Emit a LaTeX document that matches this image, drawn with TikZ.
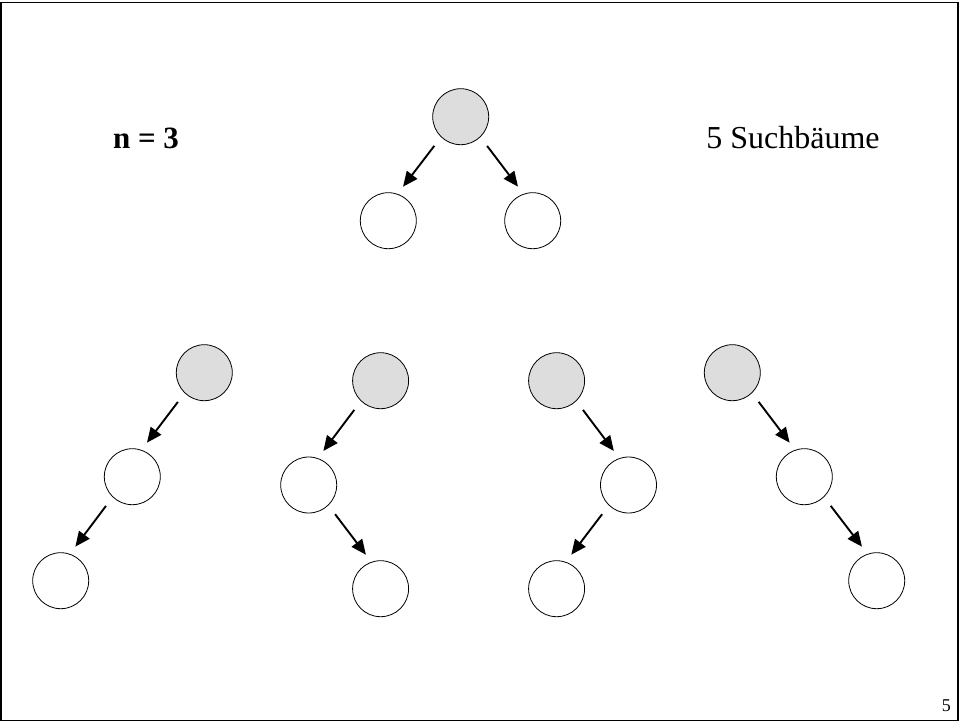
\documentclass[tikz,border=0pt]{standalone}
\usepackage{fontspec}
\setmainfont{Liberation Serif}
\usetikzlibrary{arrows.meta}
\definecolor{rootfill}{RGB}{221,221,221}
\tikzset{
  keynode/.style={circle, draw=black, line width=0.8pt, minimum size=56pt, inner sep=0pt},
  rootnode/.style={keynode, fill=rootfill},
  leafnode/.style={keynode, fill=white},
  edge/.style={line width=1.9pt, -{Triangle[length=15pt,width=13pt]}, shorten <=11pt, shorten >=9pt},
}
\begin{document}
\begin{tikzpicture}[x=1pt, y=-1pt]
  \useasboundingbox (0,0) rectangle (960,723);
  \draw[line width=1.5pt] (1,2.7) rectangle (957.8,720.3);

  % labels
  \node[font=\fontsize{31}{34}\selectfont\bfseries, anchor=base] (nlabel) at (146,148.3) {n = 3};
  \node[font=\fontsize{32}{36}\selectfont, anchor=base] (count) at (793,148.3) {5 Suchbäume};
  \node[font=\fontsize{18}{20}\selectfont, anchor=base east, inner sep=0pt] (page) at (951,711.5) {5};

  % balanced tree
  \node[rootnode] (t0) at (460.7,116.7) {};
  \node[leafnode] (t0l) at (388.3,220.7) {};
  \node[leafnode] (t0r) at (532.7,220.7) {};
  \draw[edge] (t0.226) -- (t0l.71);
  \draw[edge] (t0.314) -- (t0r.109);

  % left-left chain
  \node[rootnode] (a0) at (204.3,372.7) {};
  \node[leafnode] (a1) at (132.3,476.7) {};
  \node[leafnode] (a2) at (60.7,580.7) {};
  \draw[edge] (a0.226) -- (a1.71);
  \draw[edge] (a1.226) -- (a2.71);

  % left-right chain
  \node[rootnode] (b0) at (380.6,380.7) {};
  \node[leafnode] (b1) at (308.7,485) {};
  \node[leafnode] (b2) at (380.6,588.7) {};
  \draw[edge] (b0.226) -- (b1.71);
  \draw[edge] (b1.314) -- (b2.109);

  % right-left chain
  \node[rootnode] (c0) at (556.6,380.7) {};
  \node[leafnode] (c1) at (628.5,485) {};
  \node[leafnode] (c2) at (556.6,588.7) {};
  \draw[edge] (c0.314) -- (c1.109);
  \draw[edge] (c1.226) -- (c2.71);

  % right-right chain
  \node[rootnode] (d0) at (732.3,372.7) {};
  \node[leafnode] (d1) at (804.3,476.7) {};
  \node[leafnode] (d2) at (876.7,580.7) {};
  \draw[edge] (d0.314) -- (d1.109);
  \draw[edge] (d1.314) -- (d2.109);
\end{tikzpicture}
\end{document}
